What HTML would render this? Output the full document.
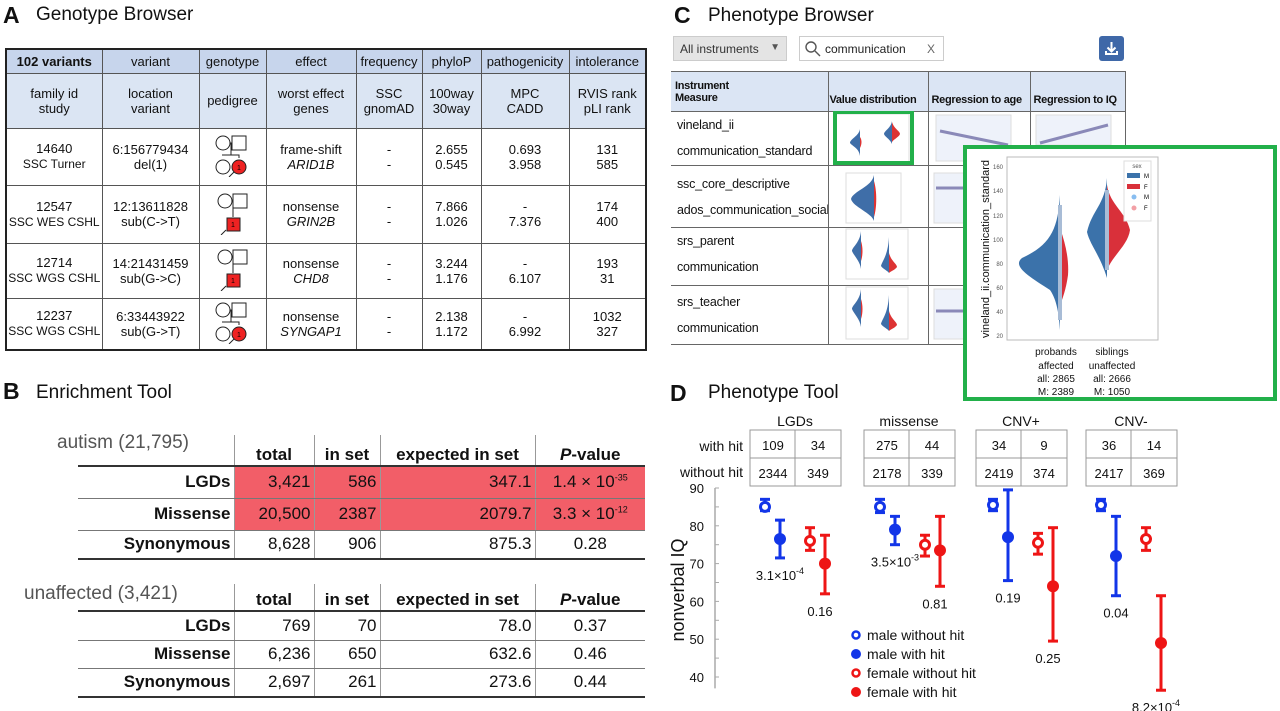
<!DOCTYPE html>
<html><head><meta charset="utf-8">
<style>
*{box-sizing:border-box;margin:0;padding:0}
body{width:1280px;height:711px;background:#fff;position:relative;overflow:hidden;font-family:"Liberation Sans",sans-serif;color:#111}
.abs{position:absolute}
.plabel{position:absolute;font-weight:bold;font-size:23px}
.ptitle{position:absolute;font-size:19px}
table{border-collapse:collapse;table-layout:fixed}
#ta td{border:1px solid #555;text-align:center;font-size:13px;line-height:15px;padding:0;white-space:nowrap;overflow:hidden}
#ta tr.h1 td{background:#c7d5ec;font-size:13px}
#ta tr.h2 td{background:#dbe5f3}
#ta{border:2px solid #222}
.tb td{font-size:17px;padding:0 3px;text-align:right;border-left:1px solid #999}
.tb td.rl{font-weight:bold;border-left:none;text-align:right}
.tb tr.hd td{font-weight:bold;text-align:center;vertical-align:bottom;border-bottom:2px solid #333}
.tb tr.r td{border-bottom:1px solid #777}
.tb tr.last td{border-bottom:2px solid #333}
.tb td.pv{text-align:center}
.red td:not(.rl){background:#f25e68}
#tc td{border:1px solid #666;font-size:12.5px;letter-spacing:-0.2px;padding:0 0 0 6px;vertical-align:top;white-space:nowrap;overflow:hidden}
#tc tr.hd td{background:#dbe5f4;font-weight:bold;font-size:11px;letter-spacing:-0.3px;vertical-align:bottom;padding-bottom:5px}
#tc{border-top:1px solid #666}
sup{font-size:9px}
</style></head><body>

<!-- Panel A -->
<div class="plabel" style="left:3px;top:2px">A</div>
<div class="ptitle" style="left:36px;top:4px">Genotype Browser</div>
<table id="ta" class="abs" style="left:5px;top:48px;width:640px;height:301px">
<colgroup><col style="width:96px"><col style="width:97px"><col style="width:67px"><col style="width:90px"><col style="width:66px"><col style="width:59px"><col style="width:88px"><col style="width:77px"></colgroup>
<tr class="h1" style="height:24px"><td style="font-weight:bold">102 variants</td><td>variant</td><td>genotype</td><td>effect</td><td>frequency</td><td>phyloP</td><td>pathogenicity</td><td>intolerance</td></tr>
<tr class="h2" style="height:55px;line-height:22px"><td>family id<br>study</td><td>location<br>variant</td><td>pedigree</td><td>worst effect<br>genes</td><td>SSC<br>gnomAD</td><td>100way<br>30way</td><td>MPC<br>CADD</td><td>RVIS rank<br>pLI rank</td></tr>
<tr style="height:57px;line-height:22px"><td>14640<br><span style="font-size:12px">SSC Turner</span></td><td>6:156779434<br>del(1)</td><td><svg width="40" height="44" viewBox="0 0 40 44"><circle cx="10" cy="10" r="7" fill="#fff" stroke="#222"/><rect x="19" y="3" width="14" height="14" fill="#fff" stroke="#222"/><path d="M17 10H19M18 10V22M9 22H26V25" stroke="#222" fill="none"/><circle cx="10" cy="34" r="7" fill="#fff" stroke="#222"/><circle cx="26" cy="34" r="7" fill="#e22" stroke="#222"/><text x="26" y="37" font-size="7" text-anchor="middle">1</text><path d="M16 44L21 39" stroke="#222"/></svg></td><td>frame-shift<br><i>ARID1B</i></td><td>-<br>-</td><td>2.655<br>0.545</td><td>0.693<br>3.958</td><td>131<br>585</td></tr>
<tr style="height:58px;line-height:22px"><td>12547<br><span style="font-size:12px">SSC WES CSHL</span></td><td>12:13611828<br>sub(C-&gt;T)</td><td><svg width="40" height="44" viewBox="0 0 40 44"><circle cx="12" cy="10" r="7" fill="#fff" stroke="#222"/><rect x="20" y="3" width="14" height="14" fill="#fff" stroke="#222"/><path d="M19 10H20M20 10V26" stroke="#222"/><rect x="14" y="27" width="13" height="13" fill="#e22" stroke="#222"/><text x="20" y="36" font-size="7" text-anchor="middle">1</text><path d="M8 44L13 39" stroke="#222"/></svg></td><td>nonsense<br><i>GRIN2B</i></td><td>-<br>-</td><td>7.866<br>1.026</td><td>-<br>7.376</td><td>174<br>400</td></tr>
<tr style="height:55px;line-height:22px"><td>12714<br><span style="font-size:12px">SSC WGS CSHL</span></td><td>14:21431459<br>sub(G-&gt;C)</td><td><svg width="40" height="44" viewBox="0 0 40 44"><circle cx="12" cy="10" r="7" fill="#fff" stroke="#222"/><rect x="20" y="3" width="14" height="14" fill="#fff" stroke="#222"/><path d="M19 10H20M20 10V26" stroke="#222"/><rect x="14" y="27" width="13" height="13" fill="#e22" stroke="#222"/><text x="20" y="36" font-size="7" text-anchor="middle">1</text><path d="M8 44L13 39" stroke="#222"/></svg></td><td>nonsense<br><i>CHD8</i></td><td>-<br>-</td><td>3.244<br>1.176</td><td>-<br>6.107</td><td>193<br>31</td></tr>
<tr style="height:52px;line-height:22px"><td>12237<br><span style="font-size:12px">SSC WGS CSHL</span></td><td>6:33443922<br>sub(G-&gt;T)</td><td><svg width="40" height="44" viewBox="0 0 40 44"><circle cx="10" cy="10" r="7" fill="#fff" stroke="#222"/><rect x="19" y="3" width="14" height="14" fill="#fff" stroke="#222"/><path d="M17 10H19M18 10V22M9 22H26V25" stroke="#222" fill="none"/><circle cx="10" cy="34" r="7" fill="#fff" stroke="#222"/><circle cx="26" cy="34" r="7" fill="#e22" stroke="#222"/><text x="26" y="37" font-size="7" text-anchor="middle">1</text><path d="M16 44L21 39" stroke="#222"/></svg></td><td>nonsense<br><i>SYNGAP1</i></td><td>-<br>-</td><td>2.138<br>1.172</td><td>-<br>6.992</td><td>1032<br>327</td></tr>
</table>

<!-- Panel B -->
<div class="plabel" style="left:3px;top:378px">B</div>
<div class="ptitle" style="left:36px;top:382px">Enrichment Tool</div>
<div class="abs" style="left:57px;top:432px;font-size:19px;color:#555">autism (21,795)</div>
<table class="tb abs" style="left:78px;top:435px;width:567px">
<colgroup><col style="width:156px"><col style="width:80px"><col style="width:66px"><col style="width:155px"><col style="width:110px"></colgroup>
<tr class="hd" style="height:31px"><td class="rl" style="border-bottom:2px solid #333"></td><td>total</td><td>in set</td><td>expected in set</td><td><i>P</i>-value</td></tr>
<tr class="r red" style="height:32px"><td class="rl">LGDs</td><td>3,421</td><td>586</td><td>347.1</td><td class="pv">1.4 × 10<sup>-35</sup></td></tr>
<tr class="r red" style="height:32px"><td class="rl">Missense</td><td>20,500</td><td>2387</td><td>2079.7</td><td class="pv">3.3 × 10<sup>-12</sup></td></tr>
<tr class="last" style="height:29px"><td class="rl">Synonymous</td><td>8,628</td><td>906</td><td>875.3</td><td class="pv">0.28</td></tr>
</table>
<div class="abs" style="left:24px;top:583px;font-size:19px;color:#555">unaffected (3,421)</div>
<table class="tb abs" style="left:78px;top:584px;width:567px">
<colgroup><col style="width:156px"><col style="width:80px"><col style="width:66px"><col style="width:155px"><col style="width:110px"></colgroup>
<tr class="hd" style="height:27px"><td class="rl" style="border-bottom:2px solid #333"></td><td>total</td><td>in set</td><td>expected in set</td><td><i>P</i>-value</td></tr>
<tr class="r" style="height:29px"><td class="rl">LGDs</td><td>769</td><td>70</td><td>78.0</td><td class="pv">0.37</td></tr>
<tr class="r" style="height:28px"><td class="rl">Missense</td><td>6,236</td><td>650</td><td>632.6</td><td class="pv">0.46</td></tr>
<tr class="last" style="height:29px"><td class="rl">Synonymous</td><td>2,697</td><td>261</td><td>273.6</td><td class="pv">0.44</td></tr>
</table>

<!-- Panel C -->
<div class="plabel" style="left:674px;top:2px">C</div>
<div class="ptitle" style="left:708px;top:5px">Phenotype Browser</div>
<div class="abs" style="left:673px;top:36px;width:114px;height:25px;background:#e4e4e4;border:1px solid #ccc;font-size:12px;padding:5px 0 0 6px;color:#333">All instruments<span style="position:absolute;right:6px;top:5px;font-size:10px;color:#555">▼</span></div>
<div class="abs" style="left:799px;top:36px;width:145px;height:25px;border:1px solid #ccc;font-size:12px;padding:5px 0 0 25px;color:#222"><svg class="abs" style="left:4px;top:3px" width="18" height="18"><circle cx="7" cy="7" r="5" fill="none" stroke="#555" stroke-width="1.4"/><path d="M11 11L16 16" stroke="#555" stroke-width="1.4"/></svg>communication<span style="position:absolute;right:8px;top:5px;color:#666">X</span></div>
<div class="abs" style="left:1099px;top:36px;width:25px;height:25px;background:#3f68a8;border-radius:3px"><svg width="25" height="25"><path d="M12.5 6V15M8.5 11.5L12.5 15.5L16.5 11.5M7 15V18H18V15" stroke="#fff" stroke-width="2" fill="none"/></svg></div>
<table id="tc" class="abs" style="left:671px;top:71px;width:454px">
<colgroup><col style="width:157px"><col style="width:100px"><col style="width:102px"><col style="width:95px"></colgroup>
<tr class="hd" style="height:40px"><td style="vertical-align:middle;padding:0 0 0 4px;border-left:none">Instrument<br>Measure</td><td style="padding-left:1px">Value distribution</td><td style="padding-left:3px">Regression to age</td><td style="padding-left:3px">Regression to IQ</td></tr>
<tr style="height:54px"><td style="line-height:26px;border-left:none">vineland_ii<br>communication_standard</td><td></td><td></td><td></td></tr>
<tr style="height:62px"><td style="line-height:26px;padding-top:5px;border-left:none">ssc_core_descriptive<br>ados_communication_social</td><td></td><td></td><td></td></tr>
<tr style="height:58px"><td style="line-height:26px;border-left:none">srs_parent<br>communication</td><td></td><td></td><td></td></tr>
<tr style="height:59px"><td style="line-height:26px;padding-top:3px;border-left:none">srs_teacher<br>communication</td><td></td><td></td><td></td></tr>
</table>
<svg class="abs" style="left:828px;top:111px" width="300" height="234">
 <g>
  <rect x="8" y="3" width="73" height="48" fill="#fff" stroke="#ddd"/>
  <path d="M32 18C31 25 22 28 22 32C24 35 31 37 32 45Z" fill="#3f6ea8"/><path d="M32 26C34 29 34 33 32 37Z" fill="#d33"/>
  <path d="M64 10C63 17 56 20 56 23C57 26 62 28 64 33Z" fill="#3f6ea8"/><path d="M64 11C66 18 72 20 72 23C71 26 66 28 64 31Z" fill="#d33"/>
  <rect x="7" y="1" width="77" height="51" fill="none" stroke="#22b04a" stroke-width="4"/>
  <rect x="108" y="4" width="75" height="46" fill="#eef2fa" stroke="#ddd"/><path d="M112 20L180 34" stroke="#8a89b8" stroke-width="3"/>
  <rect x="208" y="4" width="75" height="30" fill="#eef2fa" stroke="#ddd"/><path d="M212 32L280 14" stroke="#8a89b8" stroke-width="3"/>
 </g>
 <g>
  <rect x="18" y="62" width="55" height="50" fill="#fff" stroke="#ddd"/>
  <path d="M46 64C44 76 25 80 23 88C25 96 44 102 46 110Z" fill="#3f6ea8"/><path d="M46 70C49 80 49 96 46 106Z" fill="#d33"/>
  <rect x="106" y="62" width="30" height="50" fill="#eef2fa" stroke="#ddd"/><path d="M108 77H135" stroke="#8a89b8" stroke-width="3"/>
 </g>
 <g>
  <rect x="18" y="118" width="62" height="50" fill="#fff" stroke="#ddd"/>
  <path d="M33 120C32 132 24 136 24 140C26 145 32 150 33 158Z" fill="#3f6ea8"/><path d="M33 130C35 136 35 144 33 150Z" fill="#d33"/>
  <path d="M61 126C60 145 54 150 53 155C55 158 60 160 61 162Z" fill="#3f6ea8"/><path d="M61 142C63 150 69 153 69 156C67 159 63 160 61 162Z" fill="#d33"/>
 </g>
 <g>
  <rect x="18" y="176" width="62" height="52" fill="#fff" stroke="#ddd"/>
  <path d="M33 178C32 190 24 194 24 198C26 203 32 208 33 216Z" fill="#3f6ea8"/><path d="M33 188C35 194 35 202 33 208Z" fill="#d33"/>
  <path d="M61 184C60 203 54 208 53 213C55 216 60 218 61 220Z" fill="#3f6ea8"/><path d="M61 200C63 208 69 211 69 214C67 217 63 218 61 220Z" fill="#d33"/>
  <rect x="106" y="178" width="30" height="50" fill="#eef2fa" stroke="#ddd"/><path d="M108 200H135" stroke="#8a89b8" stroke-width="3"/>
 </g>
</svg>
<!-- inset -->
<div class="abs" style="left:963px;top:145px;width:314px;height:256px;background:#fff;border:4px solid #22b04a"></div>
<svg class="abs" style="left:967px;top:149px" width="306" height="248">
 <g transform="translate(-967,-149)">
  <rect x="1007" y="157" width="151" height="183" fill="#fff" stroke="#bbb"/>
  <g font-size="6" fill="#555" text-anchor="end">
   <text x="1003" y="169">160</text><text x="1003" y="193">140</text><text x="1003" y="218">120</text><text x="1003" y="242">100</text><text x="1003" y="266">80</text><text x="1003" y="290">60</text><text x="1003" y="314">40</text><text x="1003" y="338">20</text>
  </g>
  <text transform="translate(989,249) rotate(-90)" font-size="11" text-anchor="middle" fill="#111">vineland_ii.communication_standard</text>
  <path d="M1060 195C1058 230 1050 245 1022 258C1012 266 1028 276 1050 290C1057 300 1059 315 1060 330Z" fill="#3b72aa"/>
  <path d="M1060 228C1066 245 1069 260 1068 275C1066 290 1062 300 1060 305Z" fill="#d9303a"/>
  <path d="M1107 178C1105 205 1092 210 1087 232C1090 245 1100 255 1107 278Z" fill="#3b72aa"/>
  <path d="M1107 185C1110 205 1126 212 1130 230C1128 245 1113 255 1107 270Z" fill="#d9303a"/>
  <rect x="1058" y="205" width="4" height="115" fill="#a8bcd6"/><rect x="1105" y="190" width="4" height="80" fill="#a8bcd6"/>
  <rect x="1124" y="161" width="27" height="60" fill="#fff" stroke="#ddd"/>
  <text x="1137" y="168" font-size="6" fill="#555" text-anchor="middle">sex</text>
  <rect x="1127" y="173" width="13" height="5" fill="#3b72aa"/><text x="1144" y="178" font-size="6">M</text>
  <rect x="1127" y="184" width="13" height="5" fill="#d9303a"/><text x="1144" y="189" font-size="6">F</text>
  <circle cx="1134" cy="197" r="2.5" fill="#88bdf0"/><text x="1144" y="199" font-size="6">M</text>
  <circle cx="1134" cy="208" r="2.5" fill="#f2a0a6"/><text x="1144" y="210" font-size="6">F</text>
  <g font-size="10" text-anchor="middle" fill="#111">
   <text x="1056" y="355">probands</text><text x="1056" y="369">affected</text><text x="1056" y="382">all: 2865</text><text x="1056" y="395">M: 2389</text>
   <text x="1112" y="355">siblings</text><text x="1112" y="369">unaffected</text><text x="1112" y="382">all: 2666</text><text x="1112" y="395">M: 1050</text>
  </g>
 </g>
</svg>

<!-- Panel D -->
<div class="plabel" style="left:670px;top:380px">D</div>
<div class="ptitle" style="left:708px;top:382px">Phenotype Tool</div>
<svg id="dsvg" class="abs" style="left:660px;top:400px" width="620" height="311"></svg>

<script>
const groups = ['LGDs','missense','CNV+','CNV-'];
const withHitMale = [109,275,34,36];
const withHitFemale = [34,44,9,14];
const withoutHitMale = [2344,2178,2419,2417];
const withoutHitFemale = [349,339,374,369];
const maleWithoutMean = [85,85,85.5,85.5];
const maleWithoutLo = [84,83.5,84,84];
const maleWithoutHi = [87,87,87,87];
const maleWithMean = [76.5,79,77,72];
const maleWithLo = [71.5,75,65.5,61.5];
const maleWithHi = [81.5,82.5,89.5,82.5];
const femaleWithoutMean = [76,75,75.5,76.5];
const femaleWithoutLo = [73.5,72,72.5,73.5];
const femaleWithoutHi = [79.5,77.5,78,79.5];
const femaleWithMean = [70,73.5,64,49];
const femaleWithLo = [62,64,49.5,36.5];
const femaleWithHi = [77.5,82.5,79.5,61.5];
const maleP = ['3.1×10|-4','3.5×10|-3','0.19','0.04'];
const femaleP = ['0.16','0.81','0.25','8.2×10|-4'];
const yTicks = [90,80,70,60,50,40];

const NS='http://www.w3.org/2000/svg';
const svg=document.getElementById('dsvg');
const OX=660, OY=400;
function y(v){return 488-OY+(90-v)*3.78;}
const groupX=[765,880,993,1101].map(v=>v-OX);
const tableX=[750,864,976,1086].map(v=>v-OX);
function mk(tag,attrs,parent){const e=document.createElementNS(NS,tag);for(const k in attrs)e.setAttribute(k,attrs[k]);(parent||svg).appendChild(e);return e;}
function txt(x,yy,s,size,anchor,parent){const t=mk('text',{x:x,y:yy,'font-size':size,'text-anchor':anchor||'middle',fill:'#111'},parent);
 if(s.indexOf('|')>=0){const p=s.split('|');t.textContent=p[0];const ts=mk('tspan',{dy:-6,'font-size':9},t);ts.textContent=p[1];}else t.textContent=s;return t;}

const ax=mk('g',{});


mk('line',{x1:715-OX,x2:715-OX,y1:y(90),y2:y(37),stroke:'#aaa','stroke-width':1.5},ax);
for(let v=90;v>=40;v-=5){mk('line',{x1:715-OX,x2:719-OX,y1:y(v),y2:y(v),stroke:'#aaa'},ax);}
yTicks.forEach(v=>{const t=txt(704-OX,y(v)+5,String(v),13,'end',ax);});
const yt=mk('text',{transform:'translate('+(684-OX)+','+(590-OY)+') rotate(-90)','font-size':18,'text-anchor':'middle',fill:'#111'});
yt.textContent='nonverbal IQ';



let t1=txt(743-OX,451-OY,'with hit',14,'end');


let t2=txt(743-OX,477-OY,'without hit',14,'end');



function mark(x,m,lo,hi,color,open,name){
 const g=mk('g',{});
 
 
 mk('line',{x1:x,x2:x,y1:y(hi),y2:y(lo),stroke:color,'stroke-width':3},g);
 mk('line',{x1:x-5,x2:x+5,y1:y(hi),y2:y(hi),stroke:color,'stroke-width':3},g);
 mk('line',{x1:x-5,x2:x+5,y1:y(lo),y2:y(lo),stroke:color,'stroke-width':3},g);
 if(open) mk('circle',{cx:x,cy:y(m),r:4.5,fill:'#fff',stroke:color,'stroke-width':3},g);
 else mk('circle',{cx:x,cy:y(m),r:6,fill:color},g);
}
const BLUE='#1235e8', RED='#ee1515';
groups.forEach((gname,i)=>{
 const gx=groupX[i], tx=tableX[i];
 const title=txt(tx+45,421-OY+5,gname,14);
 
 
 const tg=mk('g',{});
 
 
 mk('rect',{x:tx,y:430-OY,width:91,height:56,fill:'#fff',stroke:'#999'},tg);
 mk('line',{x1:tx,x2:tx+91,y1:458-OY,y2:458-OY,stroke:'#999'},tg);
 mk('line',{x1:tx+45,x2:tx+45,y1:430-OY,y2:486-OY,stroke:'#999'},tg);
 txt(tx+23,450-OY,String(withHitMale[i]),13,'middle',tg);
 txt(tx+68,450-OY,String(withHitFemale[i]),13,'middle',tg);
 txt(tx+23,478-OY,String(withoutHitMale[i]),13,'middle',tg);
 txt(tx+68,478-OY,String(withoutHitFemale[i]),13,'middle',tg);
 mark(gx,maleWithoutMean[i],maleWithoutLo[i],maleWithoutHi[i],BLUE,true,'male-without-hit-'+gname);
 mark(gx+15,maleWithMean[i],maleWithLo[i],maleWithHi[i],BLUE,false,'male-with-hit-'+gname);
 mark(gx+45,femaleWithoutMean[i],femaleWithoutLo[i],femaleWithoutHi[i],RED,true,'female-without-hit-'+gname);
 mark(gx+60,femaleWithMean[i],femaleWithLo[i],femaleWithHi[i],RED,false,'female-with-hit-'+gname);
 const p1=txt(gx+15,y(maleWithLo[i])+22,maleP[i],13);
 
 
 const p2=txt(gx+55,y(femaleWithLo[i])+22,femaleP[i],13);
 
 
});
const leg=[['male without hit',BLUE,true],['male with hit',BLUE,false],['female without hit',RED,true],['female with hit',RED,false]];
leg.forEach((l,i)=>{
 const g=mk('g',{});
 
 
 const cy=635-OY+i*19;
 if(l[2]) mk('circle',{cx:856-OX,cy:cy,r:3.5,fill:'#fff',stroke:l[1],'stroke-width':2.5},g);
 else mk('circle',{cx:856-OX,cy:cy,r:5,fill:l[1]},g);
 txt(867-OX,cy+5,l[0],14,'start',g);
});
</script>
</body></html>
